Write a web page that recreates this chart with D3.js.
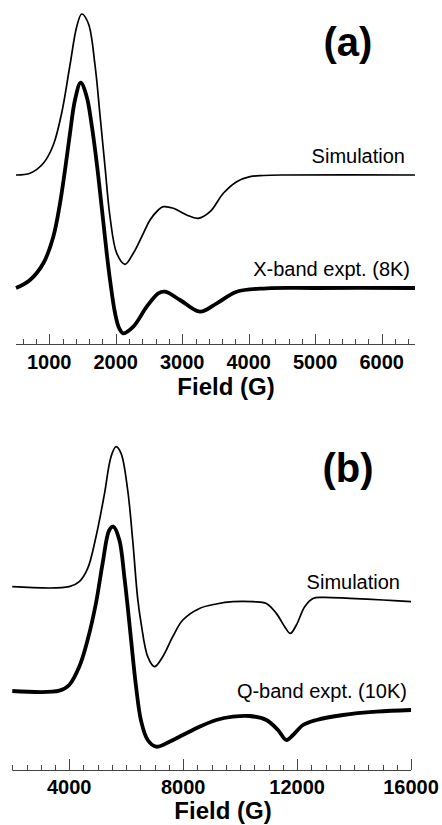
<!DOCTYPE html>
<html>
<head>
<meta charset="utf-8">
<script src="https://cdn.jsdelivr.net/npm/d3@7"></script>
<style>
  html, body { margin: 0; padding: 0; background: #fff; }
  svg { display: block; font-family: Arial, 'Liberation Sans', sans-serif; }
</style>
</head>
<body>
<div id="chart"></div>
<script>
// EPR spectra: X-band (a) and Q-band (b), simulation vs experiment.

// panel (a) - X-band
const simAField = [500, 711, 911, 1061, 1187, 1312, 1413, 1488, 1587, 1688, 1763, 1839, 1914, 2015, 2139,
  2264, 2415, 2515, 2640, 2715, 2866, 3067, 3242, 3418, 3618, 3819, 4019, 4219, 4500, 6500];
const simAInt = [0, 1.7, 11.7, 30, 62, 110, 148.3, 161, 151.7, 110, 60, 8, -42, -78.3, -89.3,
  -78.3, -58.3, -45, -35, -31.7, -33.3, -40, -43.3, -36.7, -18.3, -6.7, -1.7, -0.5, 0, 0];
const exptAField = [500, 711, 911, 1061, 1162, 1237, 1312, 1387, 1473, 1563, 1638, 1714, 1790, 1864, 1914,
  1989, 2050, 2114, 2264, 2466, 2640, 2741, 2967, 3267, 3519, 3819, 4270, 5000, 6500];
const exptAInt = [0, 8, 24.7, 51.3, 84.7, 118, 154.7, 188, 205.3, 191.3, 163, 125, 80, 35, 8,
  -25, -40, -45.3, -38.7, -18.7, -5.3, -3.7, -12, -23.7, -15.3, -3.7, -0.3, 0, 0];

// panel (b) - Q-band
const simBField = [2000, 4000, 4352, 4644, 4939, 5231, 5467, 5643, 5819, 6051, 6227, 6403, 6523, 6755, 6991,
  7283, 7635, 7987, 8574, 9162, 9746, 10450, 10921, 11271, 11564, 11764, 11975, 12267, 12559, 12911,
  13850, 15023, 16000];
const simBInt = [0, 0, 5, 18, 50, 92, 130, 140, 133.3, 96.7, 46.7, -12, -36.7, -70, -80,
  -70, -50, -33.3, -21.7, -17.3, -15, -15, -16.7, -26.7, -40, -46.7, -38.3, -20, -11.7, -10.7,
  -11.7, -13.3, -15];
const exptBField = [2000, 3649, 4000, 4352, 4644, 4939, 5172, 5407, 5548, 5759, 5935, 6051, 6171, 6347, 6523,
  6755, 7051, 7519, 7987, 8574, 9162, 9746, 10332, 10921, 11329, 11624, 11858, 12210, 12681, 13617,
  14790, 16000];
const exptBInt = [0, 0.3, 6, 24.3, 51, 88, 127.7, 161, 164.3, 151, 114, 84.3, 51, 4, -30,
  -49, -55.7, -50.7, -44, -35.7, -29, -25.7, -25, -29, -39, -49, -44, -34, -29, -24,
  -20.7, -19];

const xTicksA = [1000, 2000, 3000, 4000, 5000, 6000];
const xTicksB = [4000, 8000, 12000, 16000];

const svg = d3.select('#chart')
  .append('svg')
  .attr('width', 442)
  .attr('height', 825);

function drawPanel(opts) {
  const x = d3.scaleLinear().domain(opts.domain).range(opts.xRange);
  const y = d3.scaleLinear().domain([0, 340]).range([opts.axisY, opts.axisY - 340]);

  const line = d3.line()
    .x(d => x(d[0]))
    .y(d => y(d[1]))
    .curve(d3.curveCatmullRom.alpha(0.5));

  opts.series.forEach(s => {
    const pts = s.field.map((f, i) => [f, s.values[i] + s.offset]);
    svg.append('path')
      .datum(pts)
      .attr('d', line)
      .attr('fill', 'none')
      .attr('stroke', '#000')
      .attr('stroke-width', s.width)
      .attr('stroke-linejoin', 'round');

    svg.append('text')
      .attr('x', s.labelX)
      .attr('y', s.labelY)
      .attr('text-anchor', 'end')
      .attr('font-size', 20)
      .text(s.label);
  });

  // axis: ticks point up, into the plot
  const minor = d3.range(opts.minorStep * Math.ceil(opts.domain[0] / opts.minorStep), opts.domain[1] + 1, opts.minorStep);
  const axis = svg.append('g');
  axis.append('line')
    .attr('x1', x(opts.domain[0]))
    .attr('x2', x(opts.domain[1]))
    .attr('y1', opts.axisY + 0.5)
    .attr('y2', opts.axisY + 0.5)
    .attr('stroke', '#444');
  axis.selectAll('.tick')
    .data(minor)
    .enter().append('line')
    .attr('x1', d => Math.round(x(d)) + 0.5)
    .attr('x2', d => Math.round(x(d)) + 0.5)
    .attr('y1', opts.axisY)
    .attr('y2', d => opts.axisY - (d % opts.majorStep === 0 ? opts.majorLen : opts.minorLen))
    .attr('stroke', '#444');

  axis.selectAll('.tick-label')
    .data(opts.ticks)
    .enter().append('text')
    .attr('x', d => x(d))
    .attr('y', opts.axisY + opts.labelDy)
    .attr('text-anchor', 'middle')
    .attr('font-size', 20)
    .attr('font-weight', 'bold')
    .text(d => d);

  svg.append('text')
    .attr('x', opts.titleX)
    .attr('y', opts.axisY + opts.titleDy)
    .attr('text-anchor', 'middle')
    .attr('font-size', 24)
    .attr('font-weight', 'bold')
    .text('Field (G)');

  svg.append('text')
    .attr('x', 348)
    .attr('y', opts.tagY)
    .attr('text-anchor', 'middle')
    .attr('font-size', 40)
    .attr('font-weight', 'bold')
    .text(opts.tag);
}

drawPanel({
  domain: [500, 6500], xRange: [16, 415], axisY: 344,
  minorStep: 200, majorStep: 1000, majorLen: 10, minorLen: 5,
  ticks: xTicksA, labelDy: 25, titleX: 226, titleDy: 51, tag: '(a)', tagY: 56,
  series: [
    { field: simAField, values: simAInt, offset: 169, width: 1.7, label: 'Simulation', labelX: 405, labelY: 163 },
    { field: exptAField, values: exptAInt, offset: 56, width: 3.8, label: 'X-band expt. (8K)', labelX: 410, labelY: 276 }
  ]
});

drawPanel({
  domain: [2000, 16000], xRange: [12.3, 411], axisY: 770,
  minorStep: 500, majorStep: 4000, majorLen: 11, minorLen: 5,
  ticks: xTicksB, labelDy: 24, titleX: 223, titleDy: 49, tag: '(b)', tagY: 482,
  series: [
    { field: simBField, values: simBInt, offset: 183.3, width: 1.7, label: 'Simulation', labelX: 400, labelY: 589 },
    { field: exptBField, values: exptBInt, offset: 79, width: 3.8, label: 'Q-band expt. (10K)', labelX: 407, labelY: 698 }
  ]
});
</script>
</body>
</html>
